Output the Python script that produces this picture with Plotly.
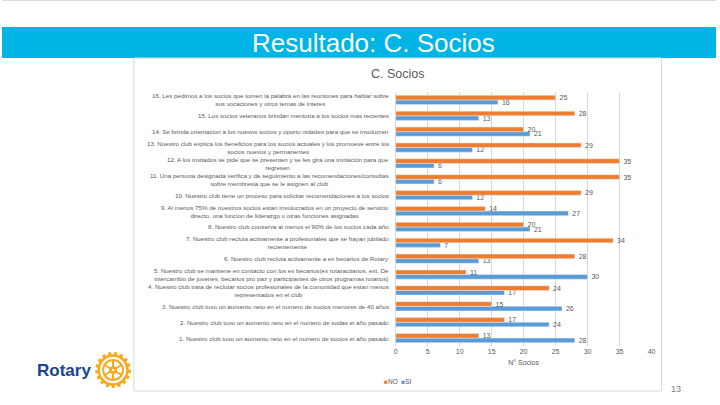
import math
import plotly.graph_objects as go

W, H = 720, 405

items = ["P%d" % i for i in range(1, 17)]
item_labels = [
    "1. Nuestro club tuvo un aumento neto en el numero de socios el año pasado",
    "2. Nuestro club tuvo un aumento neto en el numero de sodas el año pasado",
    "3. Nuestro club tuvo un aumento neto en el numero de socios menores de 40 años",
    "4. Nuestro club trata de reclutar socios profesionales de la comunidad que estan menos<br>representados en el club",
    "5. Nuestro club se mantiene en contacto con los ex becarios(ex rotaractianos, ext. De<br>intercambio de jovenes, becarios pro paz y participantes de otros programas rotarios)",
    "6. Nuestro club recluta activamente a ex becarios de Rotary",
    "7. Nuestro club recluta activamente a profesionales que se hayan jubilado<br>recientemente",
    "8. Nuestro club conserva al menos el 90% de los socios cada año",
    "9. Al menos 75% de nuestros socios estan involucrados en un proyecto de servicio<br>directo, una funcion de liderazgo u otras funciones asignadas",
    "10. Nuestro club tiene un proceso para solicitar recomendaciones a los socios",
    "11. Una persona designada verifica y da seguimiento a las recomendaciones/consultas<br>sobre membresia que se le asignen al club",
    "12. A los invitados se pide que se presenten y se les gira una invitación para que<br>regresen",
    "13. Nuestro club explica los beneficios para los socios actuales y los promueve entre los<br>socios nuevos y permanentes",
    "14. Se brinda orientacion a los nuevos socios y oportu nidades para que se involucren",
    "15. Los socios veteranos brindan mentoria a los socios mas recientes",
    "16. Les pedimos a los socios que tomen la palabra en las reuniones para hablar sobre<br>sus vocaciones y otros temas de interes",
]
no_vals = [13, 17, 15, 24, 11, 28, 34, 20, 14, 29, 35, 35, 29, 20, 28, 25]
si_vals = [28, 24, 26, 17, 30, 13, 7, 21, 27, 12, 6, 6, 12, 21, 13, 16]
x_ticks = [0, 5, 10, 15, 20, 25, 30, 35, 40]

ORANGE = "#ED7D31"
BLUE = "#5B9BD5"
GRAY = "#595959"
GOLD = "#F7A81B"
NAVY = "#17458F"
SKY = "#00B4E6"


def px(x):
    return x / W


def py(y):
    return 1 - y / H


fig = go.Figure()
fig.add_trace(go.Bar(
    y=items, x=si_vals, name="SI", orientation="h", marker_color=BLUE,
    texttemplate="\u00a0\u00a0%{x}", textposition="outside", cliponaxis=False, constraintext="none",
    textfont=dict(size=7, color=GRAY), showlegend=False,
))
fig.add_trace(go.Bar(
    y=items, x=no_vals, name="NO", orientation="h", marker_color=ORANGE,
    texttemplate="\u00a0\u00a0%{x}", textposition="outside", cliponaxis=False, constraintext="none",
    textfont=dict(size=7, color=GRAY), showlegend=False,
))

shapes = []
annotations = []

# slide top line
shapes.append(dict(type="line", xref="paper", yref="paper", x0=0, x1=1, y0=py(0.5), y1=py(0.5),
                   line=dict(color="#D9D9D9", width=1)))
# blue band
shapes.append(dict(type="rect", xref="paper", yref="paper", x0=0, x1=1, y0=py(58), y1=py(27),
                   fillcolor=SKY, line=dict(width=0), layer="below"))
# chart box
shapes.append(dict(type="rect", xref="paper", yref="paper", x0=px(133), x1=px(665), y0=py(391), y1=py(58),
                   fillcolor="rgba(0,0,0,0)", line=dict(color="#D9D9D9", width=1), layer="below"))

annotations.append(dict(text="Resultado: C. Socios", xref="paper", yref="paper", x=px(375), y=py(43),
                        showarrow=False, xanchor="center", yanchor="middle",
                        font=dict(family="Liberation Sans Narrow, Arial Narrow, Liberation Sans, sans-serif",
                                  size=26, color="white")))
annotations.append(dict(text="C. Socios", xref="paper", yref="paper", x=px(399), y=py(74),
                        showarrow=False, xanchor="center", yanchor="middle",
                        font=dict(family="Liberation Sans, sans-serif", size=12.5, color=GRAY)))

# category labels
for it, lab in zip(items, item_labels):
    annotations.append(dict(text=lab, xref="paper", yref="y", x=px(392), y=it, showarrow=False,
                            xanchor="right", yanchor="middle", align="center",
                            font=dict(family="Liberation Sans, sans-serif", size=6.2, color=GRAY)))

# legend
annotations.append(dict(
    text=f'<span style="color:{ORANGE}">■</span>NO  <span style="color:{BLUE}">■</span>SI',
    xref="paper", yref="paper", x=px(399), y=py(381), showarrow=False, xanchor="center", yanchor="middle",
    font=dict(family="Liberation Sans, sans-serif", size=6.5, color=GRAY)))

# page number
annotations.append(dict(text="13", xref="paper", yref="paper", x=px(680), y=py(389), showarrow=False,
                        xanchor="center", yanchor="middle",
                        font=dict(family="Liberation Sans, sans-serif", size=9, color="#7F7F7F")))

# Rotary logo
annotations.append(dict(text="<b>Rotary</b>", xref="paper", yref="paper", x=px(92), y=py(370), showarrow=False,
                        xanchor="right", yanchor="middle",
                        font=dict(family="Liberation Sans, sans-serif", size=17, color=NAVY)))
cx, cy = 112, 370


def circ(r, **kw):
    return dict(type="circle", xref="paper", yref="paper", x0=px(cx - r), x1=px(cx + r),
                y0=py(cy + r), y1=py(cy - r), **kw)


shapes.append(circ(16.5, line=dict(color=GOLD, width=3, dash="dot")))
shapes.append(circ(14.5, line=dict(color=GOLD, width=2.5)))
shapes.append(circ(10, line=dict(color=GOLD, width=2)))
for k in range(6):
    a = math.radians(k * 60 + 30)
    shapes.append(dict(type="line", xref="paper", yref="paper",
                       x0=px(cx), y0=py(cy), x1=px(cx + 10 * math.cos(a)), y1=py(cy + 10 * math.sin(a)),
                       line=dict(color=GOLD, width=2)))
shapes.append(circ(3.5, fillcolor=GOLD, line=dict(color=GOLD, width=1)))
shapes.append(circ(1.3, fillcolor="white", line=dict(width=0)))

fig.update_layout(
    width=W, height=H, margin=dict(l=0, r=0, t=0, b=0),
    paper_bgcolor="white", plot_bgcolor="white",
    barmode="group", bargap=0.42, bargroupgap=0,
    shapes=shapes, annotations=annotations,
    font=dict(family="Liberation Sans, sans-serif", color=GRAY),
    xaxis=dict(domain=[px(397), px(655)], range=[0, 40], tickvals=x_ticks,
               showgrid=True, gridcolor="#D9D9D9", gridwidth=1,
               zeroline=True, zerolinecolor="#D9D9D9", zerolinewidth=1,
               showline=False, ticks="", tickfont=dict(size=7, color=GRAY),
               title=dict(text="N° Socios", font=dict(size=7, color=GRAY), standoff=6)),
    yaxis=dict(domain=[py(346), py(92)], categoryorder="array", categoryarray=items,
               range=[-0.5, 15.5], autorange=False,
               showticklabels=False, showgrid=False, zeroline=False, showline=False, ticks=""),
)

fig.write_html("out.html")
